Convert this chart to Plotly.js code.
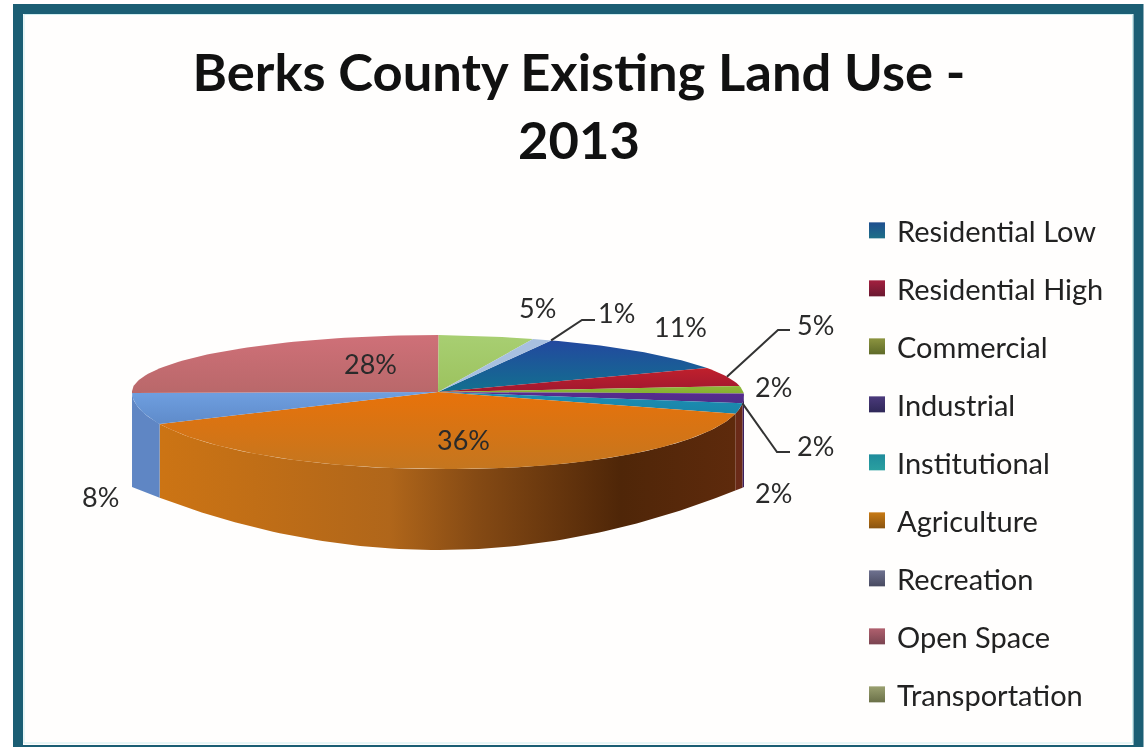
<!DOCTYPE html>
<html>
<head>
<meta charset="utf-8">
<script src="https://cdn.plot.ly/plotly-3.0.1.min.js"></script>
<style>
html,body{margin:0;padding:0;background:#fff;overflow:hidden}
#chart{width:1146px;height:747px;filter:blur(0.7px)}
</style>
</head>
<body>
<div id="chart"></div>
<script>
// ---- data ----
const categories = ["Residential Low","Residential High","Commercial","Industrial","Institutional","Agriculture","Recreation","Open Space","Transportation",""];
const shares = [11,5,2,2,2,36,8,28,5,1];
const legendColors = ["#1f4f8f","#a3203f","#8c9440","#4b3a7c","#1f8c9c","#c87a14","#6f7290","#b0606e","#9aa070"];
const legendShade = ["#1f7088","#6a1830","#5e6a28","#2f2858","#2aa0a0","#8a5410","#484a60","#7a4450","#6a7048"];
const topColors = [
  ["#23489f","#12708f"],["#c0202c","#a01830"],["#8fb83a","#86b030"],["#5a2a90","#4b2f88"],["#1c8fb4","#1a84a8"],
  ["#e8720a","#c4761f"],["#6f9fe0","#5f8bca"],["#cf7078","#b9686a"],["#a8cf72","#9cc25e"],["#a8c0e0","#a8c0e0"]
];
const sideColors = ["#1c3f7a","#7a1820","#5e7a20","#3a1f60","#6a2a18","#b06a1a","#5f86c4","#8a4a50","#6f8a40","#7a90b0"];
const agricultureSide = [[0,"#cc7414"],[0.4,"#b0661a"],[0.55,"#854a14"],[0.8,"#4f2608"],[1,"#5e2a0c"]];
// label placement (page pixels) and leader-line elbows, layout only
const labelPos = [[680,326],[815,324],[773,386],[815,445],[773,492],[463,439],[100,496],[370,363],[537,307],[616,312]];
const leaderElbow = {1:[778,330,790,330],3:[777,452,790,452],9:[582,320,595,320]};

// ---- pie geometry ----
const cx=438, cy=392, rx=306, ryBack=57, ryFront=77, startDeg=21.7;
const wallEnd=487, wallBulge=63, tilt=0.012;
const total = shares.reduce((a,b)=>a+b,0);
const cum = [0]; shares.forEach((v,i)=>cum.push(cum[i]+v/total));
const rad = d=>d*Math.PI/180;
// perspective: the slices nearest the viewer look wider
const angleAt = f => startDeg + 360*f + 17*Math.pow(Math.sin(Math.PI*f),4);
const rim = deg => { const s=Math.sin(rad(deg)), c=Math.cos(rad(deg));
  const x=cx+rx*s; return [x, cy-(c>0?ryBack:ryFront)*c+(s>0?tilt*(x-cx):0)]; };
const footOf = deg => { const c=Math.cos(rad(deg));
  return [cx+rx*Math.sin(rad(deg)), wallEnd+wallBulge*c*c]; };
const arc = (a,b,fn=rim) => { const n=Math.max(2,Math.ceil(Math.abs(b-a)/1.5)), out=[];
  for(let k=0;k<=n;k++) out.push(fn(a+(b-a)*k/n)); return out; };

const traces=[], noHover={hoverinfo:"skip",showlegend:false,mode:"lines",type:"scatter"};
// side walls
shares.forEach((v,i)=>{
  const a=Math.max(angleAt(cum[i]),90), b=Math.min(angleAt(cum[i+1]),270);
  if(b<=a) return;
  const pts=arc(a,b).concat(arc(a,b,footOf).reverse());
  const t={...noHover,x:pts.map(p=>p[0]),y:pts.map(p=>p[1]),fill:"toself",line:{width:0},fillcolor:sideColors[i]};
  if(categories[i]==="Agriculture") t.fillgradient={type:"horizontal",colorscale:agricultureSide};
  traces.push(t);
});
// top faces (the y axis runs downward, so the gradient is given bottom colour first)
shares.forEach((v,i)=>{
  const pts=[[cx,cy]].concat(arc(angleAt(cum[i]),angleAt(cum[i+1])));
  traces.push({...noHover,x:pts.map(p=>p[0]),y:pts.map(p=>p[1]),fill:"toself",line:{width:0},
    fillgradient:{type:"vertical",colorscale:[[0,topColors[i][1]],[1,topColors[i][0]]]}});
});
// leader lines
Object.keys(leaderElbow).forEach(k=>{
  const i=+k, e=leaderElbow[k];
  const f = i===9 ? cum[10] : (i===3 ? cum[i+1] : cum[i]+shares[i]/total/2);
  const p=rim(angleAt(f));
  traces.push({...noHover,x:[p[0],e[0],e[2]],y:[p[1],e[1],e[3]],line:{color:"#333",width:2}});
});
// legend entries
categories.forEach((c,i)=>{
  if(!c) return;
  traces.push({type:"scatter",mode:"markers",x:[null],y:[null],name:c,legendgroup:"g"+i,hoverinfo:"skip",
    marker:{symbol:"square",size:16,color:legendColors[i],gradient:{type:"vertical",color:legendShade[i]}}});
});

const annotations = shares.map((v,i)=>({
  text:v+"%",x:labelPos[i][0],y:labelPos[i][1],xref:"x",yref:"y",showarrow:false,
  xanchor:"center",yanchor:"middle",font:{family:"Lato, sans-serif",size:27,color:"#2a2a2a"}
}));

const frame = [
  {type:"rect",xref:"x",yref:"y",x0:18,y0:9,x1:1138.5,y1:750,line:{color:"#1b5e74",width:10},fillcolor:"#fffefd",layer:"below"},
  {type:"rect",xref:"x",yref:"y",x0:24,y0:14.5,x1:1132.5,y1:743,line:{color:"#cfeef0",width:1},layer:"below"}
];

Plotly.newPlot("chart",traces,{
  width:1146,height:747,margin:{l:0,r:0,t:0,b:0,autoexpand:false},
  paper_bgcolor:"#ffffff",plot_bgcolor:"rgba(0,0,0,0)",
  xaxis:{range:[0,1146],visible:false,fixedrange:true},
  yaxis:{range:[747,0],visible:false,fixedrange:true},
  title:{text:"Berks County Existing Land Use -<br>2013",x:579/1146,xanchor:"center",xref:"paper",y:1-91/747,yanchor:"top",yref:"container",
    font:{family:"Lato, sans-serif",size:52.5,color:"#111",weight:700}},
  legend:{x:857/1146,xanchor:"left",y:1-205/747,yanchor:"top",tracegroupgap:17.3,bgcolor:"rgba(0,0,0,0)",
    font:{family:"Lato, sans-serif",size:29,color:"#222"},itemclick:false,itemdoubleclick:false},
  showlegend:true,shapes:frame,annotations
},{staticPlot:true,displayModeBar:false});
</script>
</body>
</html>
